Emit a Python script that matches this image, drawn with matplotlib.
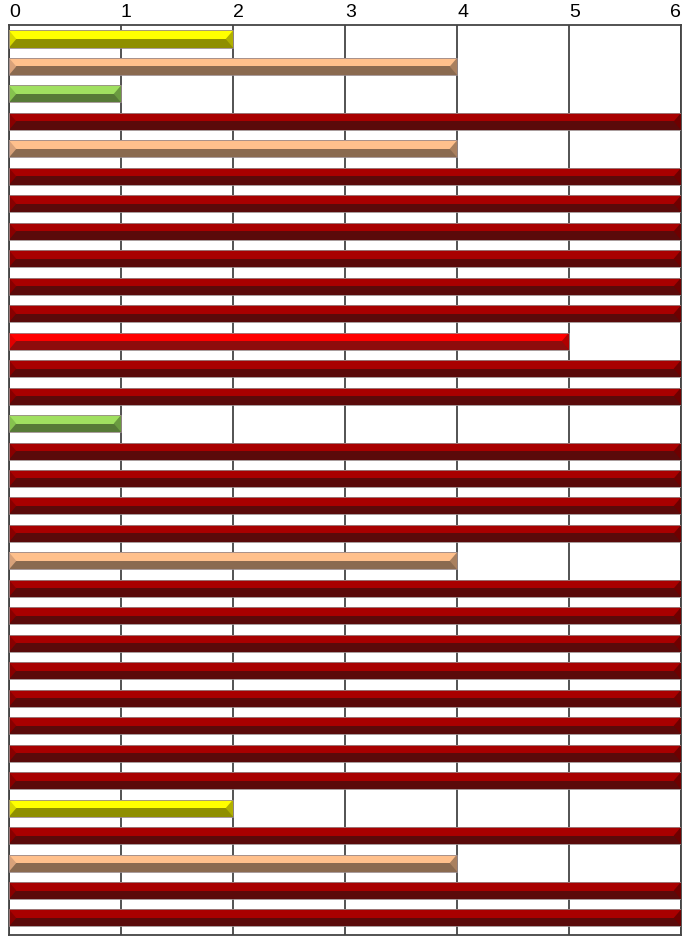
import numpy as np
import matplotlib
matplotlib.use("Agg")
import matplotlib.pyplot as plt
from matplotlib.patches import Polygon

plt.rcParams['font.family'] = ['Liberation Sans', 'DejaVu Sans']

# valeurs des barres, de haut en bas
valeurs = [2, 4, 1, 6, 4, 6, 6, 6, 6, 6, 6, 5, 6, 6, 1, 6, 6, 6, 6, 4,
           6, 6, 6, 6, 6, 6, 6, 6, 2, 6, 4, 6, 6]
graduations = [0, 1, 2, 3, 4, 5, 6]

# couleurs : (haut, bas, biseau gauche, biseau droit) selon la valeur
teintes = {
    1: ('#a0e060', '#577a37', '#86c24e', '#6a9a40'),
    2: ('#ffff00', '#8f8f00', '#d8d800', '#b0b000'),
    4: ('#ffc08c', '#8a6a50', '#d9a27a', '#a9805f'),
    5: ('#ff0000', '#8e0c0c', '#e00000', '#b00000'),
    6: ('#a80000', '#5a0a0a', '#880000', '#6e0000'),
}

fig = plt.figure(figsize=(6.98, 9.38), dpi=100)
ax = fig.add_axes([9/698, 3/938, 672/698, 910/938])

h = 0.62   # hauteur d'une barre
d = 0.065  # largeur du biseau
Y = np.arange(len(valeurs))

for y, v in zip(Y, valeurs):
    haut, bas, gauche, droite = teintes[v]
    ax.barh(y - h/4, v, height=h/2, color=haut, linewidth=0, zorder=3)
    ax.barh(y + h/4, v, height=h/2, color=bas, linewidth=0, zorder=3)
    ax.add_patch(Polygon([(0, y - h/2), (d, y), (0, y + h/2)],
                         closed=True, color=gauche, lw=0, zorder=4))
    ax.add_patch(Polygon([(v, y - h/2), (v - d, y), (v, y + h/2)],
                         closed=True, color=droite, lw=0, zorder=4))
    ax.barh(y, v, height=h, fill=False, edgecolor='#9a8a8a', linewidth=0.6, zorder=5)

ax.set_xlim(0, 6)
ax.set_ylim(32.62, -0.51)
ax.set_xticks(graduations)
ax.set_yticks([])
ax.xaxis.tick_top()
ax.tick_params(axis='x', length=0, pad=3, labelsize=14)
for lab in ax.get_xticklabels():
    lab.set_horizontalalignment('left')
ax.get_xticklabels()[-1].set_horizontalalignment('right')
ax.grid(axis='x', color='#444444', linewidth=1.3, zorder=1)
for s in ax.spines.values():
    s.set_color('#444444')
    s.set_linewidth(1.3)

plt.savefig('out.png', dpi=100)
